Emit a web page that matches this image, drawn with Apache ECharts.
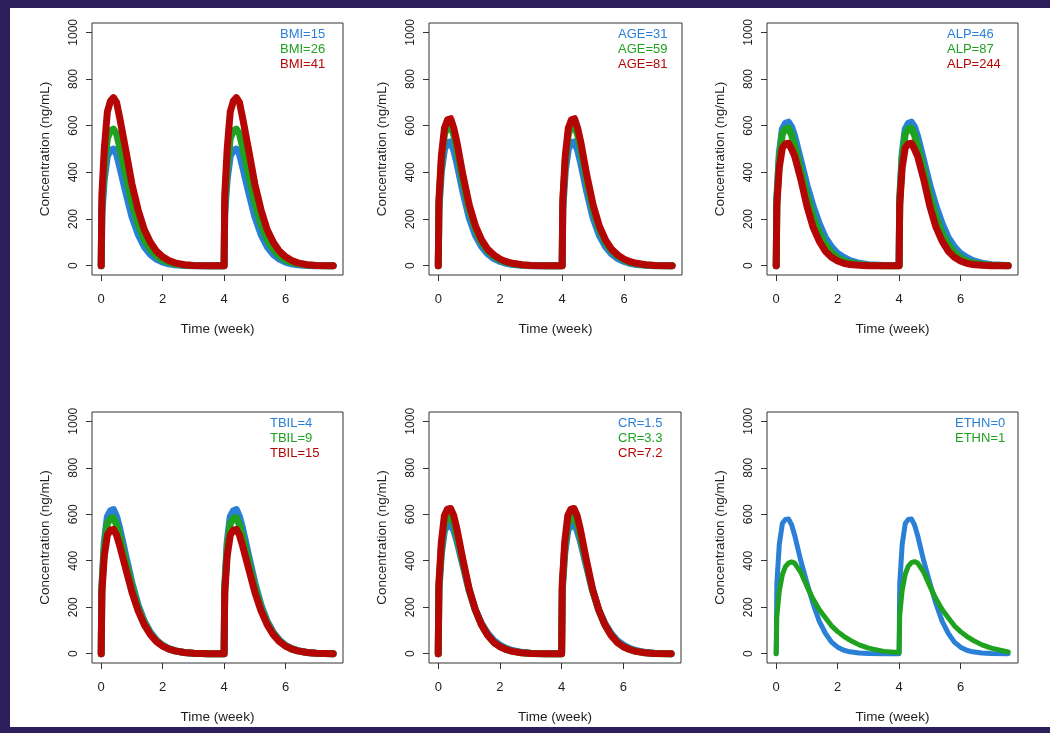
<!DOCTYPE html>
<html><head><meta charset="utf-8">
<script src="https://cdn.jsdelivr.net/npm/echarts@6/dist/echarts.min.js"></script>
<style>html,body{margin:0;padding:0;background:#fff}#c{width:1050px;height:733px}</style>
</head><body><div id="c"></div>
<script>
// ---- data (time in weeks, concentration in ng/mL) ----
const weeks = [0, 0.02, 0.1, 0.2, 0.3, 0.4, 0.5, 0.6, 0.8, 1.0, 1.2, 1.4, 1.6, 1.8, 2.0, 2.2, 2.4, 2.7, 3.0, 3.5,
               4.0, 4.02, 4.1, 4.2, 4.3, 4.4, 4.5, 4.6, 4.8, 5.0, 5.2, 5.4, 5.6, 5.8, 6.0, 6.2, 6.4, 6.7, 7.0, 7.55];
const xTicks = [0, 2, 4, 6];
const yTicks = [0, 200, 400, 600, 800, 1000];
const xTitle = 'Time (week)';
const yTitle = 'Concentration (ng/mL)';

const bmiLabels = ['BMI=15', 'BMI=26', 'BMI=41'];
const bmi15 = [0,220,370,470,495,500,478,425,315,210,135,82,48,28,15,8,4,1,0,0, 0,220,370,470,495,500,478,425,315,210,135,82,48,28,15,8,4,1,0,0];
const bmi26 = [0,250,420,545,578,585,565,510,390,270,180,112,70,42,24,14,8,3,1,0, 0,250,420,545,578,585,565,510,390,270,180,112,70,42,24,14,8,3,1,0];
const bmi41 = [0,300,500,660,705,720,700,635,495,350,240,155,100,62,38,22,12,4,1,0, 0,300,500,660,705,720,700,635,495,350,240,155,100,62,38,22,12,4,1,0];

const ageLabels = ['AGE=31', 'AGE=59', 'AGE=81'];
const age31 = [0,240,405,500,527,530,495,440,315,205,130,82,50,30,18,10,5,2,0,0, 0,240,405,500,527,530,495,440,315,205,130,82,50,30,18,10,5,2,0,0];
const age59 = [0,265,450,565,596,600,560,500,360,242,156,100,63,40,24,14,8,3,1,0, 0,265,450,565,596,600,560,500,360,242,156,100,63,40,24,14,8,3,1,0];
const age81 = [0,280,470,590,625,630,590,530,385,260,170,110,70,45,28,17,10,4,1,0, 0,280,470,590,625,630,590,530,385,260,170,110,70,45,28,17,10,4,1,0];

const alpLabels = ['ALP=46', 'ALP=87', 'ALP=244'];
const alp46 = [0,290,480,585,610,615,595,555,450,345,255,180,120,80,52,35,22,10,4,1, 1,290,480,585,610,615,595,555,450,345,255,180,120,80,52,35,22,10,4,1];
const alp87 = [0,275,460,565,586,590,560,515,410,300,210,140,90,56,34,20,12,5,2,0, 0,275,460,565,586,590,560,515,410,300,210,140,90,56,34,20,12,5,2,0];
const alp244 = [0,260,420,505,522,525,500,470,370,255,165,105,62,36,20,10,5,2,0,0, 0,260,420,505,522,525,500,470,370,255,165,105,62,36,20,10,5,2,0,0];

const tbilLabels = ['TBIL=4', 'TBIL=9', 'TBIL=15'];
const tbil4 = [0,290,480,590,615,620,590,540,420,305,210,140,92,58,36,22,13,5,2,0, 0,290,480,590,615,620,590,540,420,305,210,140,92,58,36,22,13,5,2,0];
const tbil9 = [0,275,455,560,582,585,555,505,395,288,198,132,87,55,34,21,12,5,2,0, 0,275,455,560,582,585,555,505,395,288,198,132,87,55,34,21,12,5,2,0];
const tbil15 = [0,260,420,510,532,535,510,465,365,265,185,125,82,52,33,20,12,5,2,0, 0,260,420,510,532,535,510,465,365,265,185,125,82,52,33,20,12,5,2,0];

const crLabels = ['CR=1.5', 'CR=3.3', 'CR=7.2'];
const cr15 = [0,270,430,530,552,555,532,488,380,272,190,130,88,57,37,23,14,6,2,0, 0,270,430,530,552,555,532,488,380,272,190,130,88,57,37,23,14,6,2,0];
const cr33 = [0,285,455,562,587,590,563,512,392,275,188,125,81,50,31,19,11,4,1,0, 0,285,455,562,587,590,563,512,392,275,188,125,81,50,31,19,11,4,1,0];
const cr72 = [0,300,480,595,622,625,595,540,405,280,190,125,80,49,30,18,10,4,1,0, 0,300,480,595,622,625,595,540,405,280,190,125,80,49,30,18,10,4,1,0];

const ethnLabels = ['ETHN=0', 'ETHN=1'];
const ethn0 = [0,300,470,560,578,580,555,510,400,305,215,140,88,50,28,15,8,3,1,0, 0,300,470,560,578,580,555,510,400,305,215,140,88,50,28,15,8,3,1,0];
const ethn1 = [0,160,270,340,375,390,395,390,350,290,235,190,155,120,95,75,58,38,24,10, 5,165,274,343,377,392,396,391,351,291,236,190,155,120,95,75,58,38,24,8];

// ---- styling / layout ----
const colors = ['#2a7fd6', '#1fa21f', '#b50606'];
const FONT = "'Liberation Sans', Arial, sans-serif";
const panels = [
  { labels: bmiLabels,  values: [bmi15, bmi26, bmi41],  grid: {left: 92,  top: 23,  width: 251, height: 252}, leg: [275, 26.5], lw: 7 },
  { labels: ageLabels,  values: [age31, age59, age81],  grid: {left: 429, top: 23,  width: 253, height: 252}, leg: [613, 26.5], lw: 7 },
  { labels: alpLabels,  values: [alp46, alp87, alp244], grid: {left: 767, top: 23,  width: 251, height: 252}, leg: [942, 26.5], lw: 7 },
  { labels: tbilLabels, values: [tbil4, tbil9, tbil15], grid: {left: 92,  top: 412, width: 251, height: 251}, leg: [265, 415.5], lw: 7 },
  { labels: crLabels,   values: [cr15, cr33, cr72],     grid: {left: 429, top: 412, width: 252, height: 251}, leg: [613, 415.5], lw: 7 },
  { labels: ethnLabels, values: [ethn0, ethn1],         grid: {left: 767, top: 412, width: 251, height: 251}, leg: [950, 415.5], lw: 5 }
];

const grids = [], xAxes = [], yAxes = [], series = [], legends = [];
panels.forEach((p, i) => {
  grids.push(Object.assign({ show: true, borderColor: '#333333', borderWidth: 1, backgroundColor: 'transparent', containLabel: false }, p.grid));
  xAxes.push({
    type: 'value', gridIndex: i, min: -0.3, max: 7.87,
    name: xTitle, nameLocation: 'middle', nameGap: 47,
    nameTextStyle: { fontFamily: FONT, fontSize: 13.5, color: '#1e1e1e' },
    axisLine: { show: false, onZero: false },
    axisTick: { show: true, length: 6, inside: false, customValues: xTicks, lineStyle: { color: '#333' } },
    axisLabel: { customValues: xTicks, margin: 18, fontFamily: FONT, fontSize: 13, color: '#1e1e1e', formatter: v => String(v) },
    splitLine: { show: false }
  });
  yAxes.push({
    type: 'value', gridIndex: i, min: -40, max: 1040,
    name: yTitle, nameLocation: 'middle', nameGap: 40,
    nameTextStyle: { fontFamily: FONT, fontSize: 13.5, color: '#1e1e1e' },
    axisLine: { show: false, onZero: false },
    axisTick: { show: true, length: 6, inside: false, customValues: yTicks, lineStyle: { color: '#333' } },
    axisLabel: { customValues: yTicks, rotate: 90, margin: 12, fontFamily: FONT, fontSize: 12, color: '#1e1e1e', formatter: v => String(v) },
    splitLine: { show: false }
  });
  const legData = [];
  p.labels.forEach((lab, j) => {
    const col = colors[j];
    series.push({
      name: lab, type: 'line', xAxisIndex: i, yAxisIndex: i,
      data: weeks.map((t, k) => [t, p.values[j][k]]),
      showSymbol: false, smooth: false,
      lineStyle: { color: col, width: p.lw, cap: 'round', join: 'round' },
      itemStyle: { color: col },
      animation: false, z: 2 + j
    });
    legData.push({ name: lab, textStyle: { color: col } });
  });
  legends.push({
    data: legData, orient: 'vertical', left: p.leg[0], top: p.leg[1],
    icon: 'none', itemWidth: 0, itemHeight: 10, itemGap: 0, padding: 0,
    selectedMode: false,
    textStyle: { fontFamily: FONT, fontSize: 13, lineHeight: 15 }
  });
});

const frame = '#2d1e5c';
const chart = echarts.init(document.getElementById('c'), null, { renderer: 'canvas' });
chart.setOption({
  animation: false,
  backgroundColor: '#ffffff',
  grid: grids, xAxis: xAxes, yAxis: yAxes, series: series, legend: legends,
  graphic: [
    { type: 'rect', shape: { x: 0, y: 0, width: 1050, height: 8 }, style: { fill: frame }, z: 100 },
    { type: 'rect', shape: { x: 0, y: 0, width: 10, height: 733 }, style: { fill: frame }, z: 100 },
    { type: 'rect', shape: { x: 0, y: 727, width: 1050, height: 6 }, style: { fill: frame }, z: 100 }
  ]
});
</script></body></html>
